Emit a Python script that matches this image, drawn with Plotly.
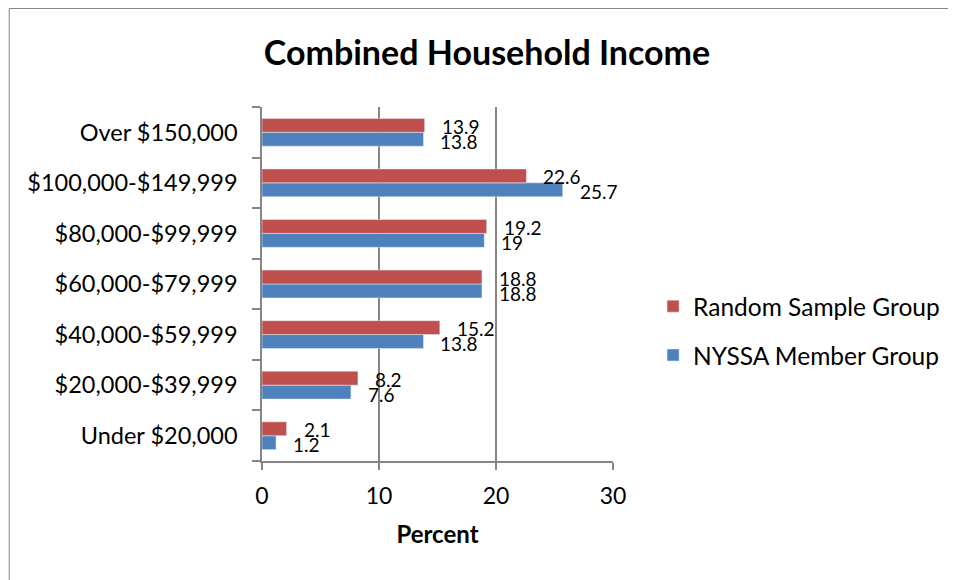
import plotly.graph_objects as go

# categories listed bottom to top, as they stack on the y axis
categories = [
    "Under $20,000",
    "$20,000-$39,999",
    "$40,000-$59,999",
    "$60,000-$79,999",
    "$80,000-$99,999",
    "$100,000-$149,999",
    "Over $150,000",
]
random_sample = [2.1, 8.2, 15.2, 18.8, 19.2, 22.6, 13.9]
nyssa_member = [1.2, 7.6, 13.8, 18.8, 19, 25.7, 13.8]

x_ticks = [0, 10, 20, 30]

RED = "#C0504D"
BLUE = "#4F81BD"
AXIS = "#868686"
FONT = "Lato"

fig = go.Figure()

# first trace sits at the bottom of each group in plotly
fig.add_trace(go.Bar(
    y=categories, x=nyssa_member, orientation="h",
    name="NYSSA Member Group", marker_color=BLUE,
    legendgroup="b", legendrank=2,
))
fig.add_trace(go.Bar(
    y=categories, x=random_sample, orientation="h",
    name="Random Sample Group", marker_color=RED,
    legendgroup="a", legendrank=1,
))

# data labels to the right of each bar
annotations = []
for cat, val in zip(categories, random_sample):
    annotations.append(dict(x=val, y=cat, text=f"{val:g}", showarrow=False,
                            xanchor="left", xshift=15, yshift=6,
                            font=dict(size=19, color="black", family=FONT)))
for cat, val in zip(categories, nyssa_member):
    annotations.append(dict(x=val, y=cat, text=f"{val:g}", showarrow=False,
                            xanchor="left", xshift=15, yshift=-9,
                            font=dict(size=19, color="black", family=FONT)))

# page has an 8px body margin, so the figure is a little smaller than the window
W, H = 948, 572
L, R, T, B = 254, 342, 99, 119
pw, ph = W - L - R, H - T - B

fig.update_layout(
    width=W, height=H,
    margin=dict(l=L, r=R, t=T, b=B),
    paper_bgcolor="white", plot_bgcolor="white",
    font=dict(family=FONT, color="black"),
    title=dict(text="<b>Combined Household Income</b>", x=479 / W, xanchor="center",
               y=1 - 45 / H, yanchor="middle", font=dict(size=34, family=FONT)),
    barmode="group", bargap=0.45, bargroupgap=0,
    showlegend=True,
    legend=dict(x=1.111, xanchor="left", y=0.368, yanchor="middle",
                font=dict(size=24.5, family=FONT), tracegroupgap=14,
                bgcolor="rgba(0,0,0,0)"),
    annotations=annotations,
    # outer chart border (runs off the right and bottom edges)
    shapes=[dict(type="rect", xref="paper", yref="paper",
                 x0=(0.5 - L) / pw, x1=(W + 20 - L) / pw,
                 y0=-(B + 20) / ph, y1=(ph + T - 0.5) / ph,
                 line=dict(color=AXIS, width=1), layer="below")],
)

fig.update_xaxes(
    range=[0, 30], tickvals=x_ticks,
    showgrid=True, gridcolor=AXIS, gridwidth=1.5,
    showline=True, linecolor=AXIS, linewidth=1.5,
    ticks="outside", ticklen=7, tickcolor=AXIS, tickwidth=1.5,
    tickfont=dict(size=23, family=FONT), ticklabelstandoff=7,
    zeroline=False,
    title=dict(text="<b>Percent</b>", font=dict(size=24, family=FONT), standoff=18),
)
fig.update_yaxes(
    type="category", categoryorder="array", categoryarray=categories,
    showgrid=False, showline=True, linecolor=AXIS, linewidth=1.5,
    ticks="outside", ticklen=8, tickcolor=AXIS, tickwidth=1.5,
    tickson="boundaries",
    tickfont=dict(size=23.5, family=FONT), ticklabelstandoff=18,
)

fig.write_html("out.html")
